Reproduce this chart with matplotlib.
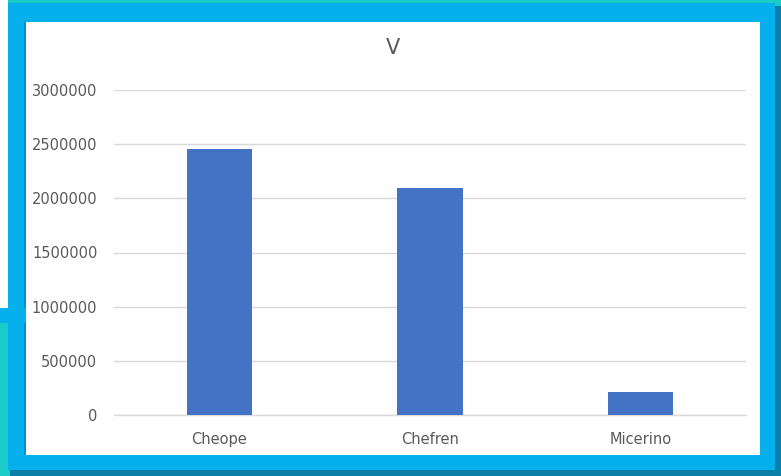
import matplotlib
matplotlib.use("Agg")
import matplotlib.pyplot as plt
from matplotlib.patches import Rectangle

categories = ["Cheope", "Chefren", "Micerino"]
values = [2455000, 2098000, 216000]
y_ticks = [0, 500000, 1000000, 1500000, 2000000, 2500000, 3000000]
title = "V"

W, H = 781, 476
fig = plt.figure(figsize=(W / 100, H / 100), dpi=100)
fig.patch.set_facecolor("#1ACBC8")

# background decoration axes in pixel coordinates (y from top)
bg = fig.add_axes([0, 0, 1, 1])
bg.set_xlim(0, W)
bg.set_ylim(H, 0)
bg.axis("off")
bg.set_zorder(0)

def rect(x0, y0, x1, y1, color):
    bg.add_patch(Rectangle((x0, y0), x1 - x0, y1 - y0, facecolor=color,
                           edgecolor="none"))

rect(10, 6, 781, 476, "#0A7FA8")      # shadow
rect(8, 3, 775, 470, "#05B0EC")       # blue frame
rect(24, 22, 27, 455, "#0690C4")      # inner left shade
rect(26, 22, 760, 455, "#FFFFFF")     # white panel
rect(0, 0, 8, 308, "#FFFFFF")         # white top-left strip
rect(0, 308, 26, 323, "#05B0EC")      # blue stub
rect(0, 323, 8, 476, "#1ACBC8")       # teal bottom-left

ax = fig.add_axes([114 / W, 1 - 415 / H, 632 / W, 325 / H])
ax.set_facecolor("none")
ax.set_zorder(5)
x = range(len(categories))
ax.bar(x, values, width=0.31, color="#4472C4", zorder=3)
ax.set_xlim(-0.5, len(categories) - 0.5)
ax.set_ylim(0, 3000000)
ax.set_yticks(y_ticks)
ax.set_yticklabels([str(v) for v in y_ticks])
ax.set_xticks(list(x))
ax.set_xticklabels(categories)
ax.grid(axis="y", color="#D9D9D9", linewidth=1.0, zorder=0)
for s in ["top", "right", "left"]:
    ax.spines[s].set_visible(False)
ax.spines["bottom"].set_color("#D9D9D9")
ax.spines["bottom"].set_linewidth(1.0)
ax.tick_params(axis="both", length=0, colors="#595959", labelsize=10.5)
ax.tick_params(axis="y", pad=12)
ax.tick_params(axis="x", pad=12)

fig.text(393 / W, 1 - 48 / H, title, ha="center", va="center",
         fontsize=15, color="#595959", zorder=10)

fig.savefig("out.png", dpi=100, facecolor=fig.get_facecolor())
